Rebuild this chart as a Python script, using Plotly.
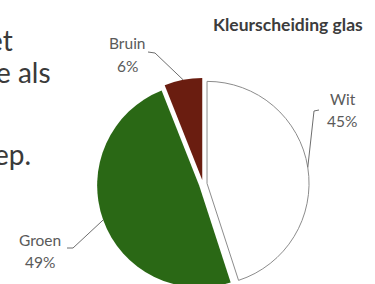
import numpy as np
import plotly.graph_objects as go

# ---- data ----
categories = ["Wit", "Groen", "Bruin"]
values = [45, 49, 6]
slice_colors = ["#ffffff", "#2a6815", "#6a1d10"]
title_text = "Kleurscheiding glas"
body_lines = ["et", "e als", "ep."]

# ---- layout geometry (pixels) ----
W, H = 375, 292          # page shows the top 284 px; pie runs off the bottom
PULL = 0.04
R_TARGET = 102.0
CX, CY = 203.0, 184.0

def px(x):
    return x / W

def py(y):
    return 1 - y / H

half = R_TARGET * (1 + PULL)
R = R_TARGET

fig = go.Figure()
fig.add_trace(go.Pie(
    labels=categories,
    values=values,
    sort=False,
    direction="clockwise",
    rotation=0,
    pull=[PULL] * len(values),
    marker=dict(colors=slice_colors,
                line=dict(color=["#8c8c8c", "#ffffff", "#ffffff"], width=[1, 0, 0])),
    textinfo="none",
    hoverinfo="label+percent",
    showlegend=False,
    domain=dict(x=[px(CX - half), px(CX + half)], y=[py(CY + half), py(CY - half)]),
))

# mid angles of slices (clockwise from 12 o'clock)
vals = np.array(values, dtype=float)
cum = np.cumsum(vals) / vals.sum() * 360
starts = np.concatenate([[0], cum[:-1]])
mids = (starts + cum) / 2
pcts = np.round(vals / vals.sum() * 100).astype(int)

# label positions (pixels): name centre, pct centre, leader start, elbow
label_pos = {
    "Wit":   dict(name=(343, 99), pct=(342, 121), start=(319, 110), elbow=(314, 111)),
    "Groen": dict(name=(40, 240), pct=(40, 262), start=(67, 248), elbow=(73, 248)),
    "Bruin": dict(name=(127, 43), pct=(127, 66), start=(148, 52), elbow=(155, 53)),
}

LBL_FONT = dict(family="Lato", size=15.5, color="#5a5a5a")
annotations = []
shapes = []
for cat, m, p in zip(categories, mids, pcts):
    lp = label_pos[cat]
    annotations.append(dict(text=cat, x=px(lp["name"][0]), y=py(lp["name"][1]),
                            xref="paper", yref="paper", showarrow=False,
                            xanchor="center", yanchor="middle", font=LBL_FONT))
    annotations.append(dict(text=f"{p}%", x=px(lp["pct"][0]), y=py(lp["pct"][1]),
                            xref="paper", yref="paper", showarrow=False,
                            xanchor="center", yanchor="middle", font=LBL_FONT))
    th = np.deg2rad(m)
    d = R * (1 + PULL)
    ex, ey = CX + d * np.sin(th), CY - d * np.cos(th)
    x0, y0 = lp["start"]
    x1, y1 = lp["elbow"]
    path = (f"M {px(x0)} {py(y0)} L {px(x1)} {py(y1)} L {px(ex)} {py(ey)}")
    shapes.append(dict(type="path", xref="paper", yref="paper", path=path,
                       line=dict(color="#6e6e6e", width=1)))

# title
annotations.append(dict(text=f"<b>{title_text}</b>", x=px(288), y=py(24),
                        xref="paper", yref="paper", showarrow=False,
                        xanchor="center", yanchor="middle",
                        font=dict(family="Lato", size=17.5, color="#3c3c3c")))

# body text fragments on the left
body_pos = [(15, 40), (53, 72), (33, 154)]
for t, (bx, by) in zip(body_lines, body_pos):
    annotations.append(dict(text=t, x=px(bx), y=py(by), xref="paper", yref="paper",
                            showarrow=False, xanchor="right", yanchor="middle",
                            font=dict(family="Lato", size=28, color="#3a3a3a")))

fig.update_layout(
    width=W, height=H,
    margin=dict(l=0, r=0, t=0, b=0),
    paper_bgcolor="white", plot_bgcolor="white",
    annotations=annotations, shapes=shapes,
)

fig.write_html(
    "out.html",
    config={"displayModeBar": False},
    post_script="document.body.style.margin='0';document.body.style.overflow='hidden';",
)
